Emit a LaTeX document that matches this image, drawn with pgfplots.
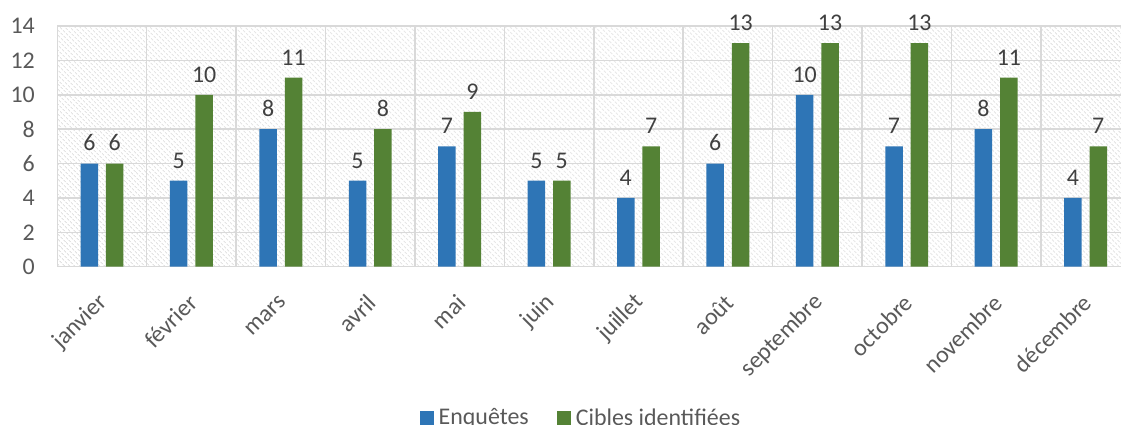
\documentclass[border=0pt]{standalone}
\usepackage{fontspec}
\setmainfont{Carlito}
\usepackage{pgfplots}
\pgfplotsset{compat=1.18}
\usetikzlibrary{patterns.meta}
\definecolor{cblue}{HTML}{2E75B6}
\definecolor{cgreen}{HTML}{548235}
\definecolor{gridc}{HTML}{D9D9D9}
\definecolor{hatchc}{HTML}{D2D2D2}
\definecolor{tickc}{HTML}{595959}
\definecolor{labc}{HTML}{404040}
\newcommand{\cfont}{\fontsize{24}{28}\selectfont}
\begin{document}
\begin{tikzpicture}
\path[use as bounding box] (0,0) rectangle (1121bp,425bp);
\begin{axis}[
  at={(57.3bp,158.3bp)}, anchor=south west,
  scale only axis, width=1073bp, height=240.7bp,
  xmin=-0.5, xmax=11.5, ymin=0, ymax=14,
  ytick={0,2,...,14},
  xtick={0,...,11},
  xticklabels={janvier,février,mars,avril,mai,juin,juillet,août,septembre,octobre,novembre,décembre},
  minor xtick={-0.5,0.5,...,11.5},
  ymajorgrids, xminorgrids,
  grid style={draw=gridc, line width=1.5bp},
  minor grid style={draw=gridc, line width=1.5bp},
  axis line style={draw=gridc, line width=1.5bp},
  major tick length=0pt, minor tick length=0pt,
  tick style={draw=none},
  axis background/.style={pattern={Lines[angle=-45,distance=3.6bp,line width=0.9bp]}, pattern color=hatchc},
  /pgf/number format/assume math mode=true,
  ticklabel style={font=\cfont, text=tickc},
  yticklabel style={xshift=-19bp},
  xticklabel style={rotate=45, anchor=east, xshift=-18bp, yshift=-24bp},
  ybar=7.9bp, bar width=17.5bp,
  nodes near coords,
  every node near coord/.append style={font=\cfont, text=labc, yshift=9bp},
  legend style={at={(0.488,-0.627)}, anchor=center, draw=none, fill=none, legend columns=2, font=\cfont, text=tickc,
    /tikz/every odd column/.append style={column sep=3bp},
    /tikz/every even column/.append style={column sep=26bp}},
  legend image code/.code={\fill[#1] (0bp,-7bp) rectangle (14bp,7bp);},
]
\addplot[fill=cblue, draw=none] coordinates {(0,6) (1,5) (2,8) (3,5) (4,7) (5,5) (6,4) (7,6) (8,10) (9,7) (10,8) (11,4)};
\addplot[fill=cgreen, draw=none] coordinates {(0,6) (1,10) (2,11) (3,8) (4,9) (5,5) (6,7) (7,13) (8,13) (9,13) (10,11) (11,7)};
\legend{Enquêtes, Cibles identifiées}
\end{axis}
\end{tikzpicture}
\end{document}
